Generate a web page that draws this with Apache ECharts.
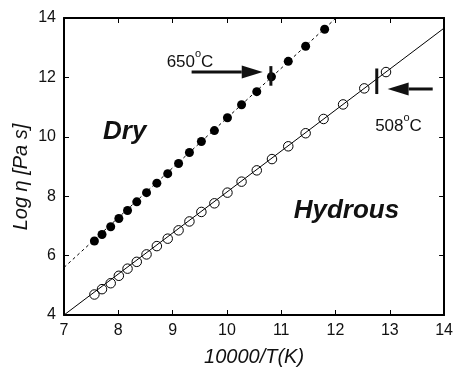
<!DOCTYPE html>
<html>
<head>
<meta charset="utf-8">
<script src="https://cdn.jsdelivr.net/npm/echarts@6/dist/echarts.min.js"></script>
<style>html,body{margin:0;padding:0;background:#fff}#c{width:456px;height:372px}</style>
</head>
<body>
<div id="c"></div>
<script>
// Tick values
const xTicks = [7, 8, 9, 10, 11, 12, 13, 14];
const yTicks = [4, 6, 8, 10, 12, 14];

// Dry (filled circles)
const dryX = [7.56, 7.70, 7.86, 8.01, 8.17, 8.34, 8.52, 8.71, 8.91, 9.11, 9.31, 9.53, 9.77, 10.01, 10.27, 10.55, 10.82, 11.13, 11.45, 11.80];
const dryY = [6.49, 6.71, 6.97, 7.25, 7.52, 7.81, 8.12, 8.44, 8.76, 9.10, 9.47, 9.84, 10.21, 10.64, 11.08, 11.52, 12.02, 12.54, 13.05, 13.62];

// Hydrous (open circles)
const hydX = [7.56, 7.70, 7.86, 8.01, 8.17, 8.34, 8.52, 8.71, 8.91, 9.11, 9.31, 9.53, 9.77, 10.01, 10.27, 10.55, 10.83, 11.13, 11.45, 11.78, 12.14, 12.53, 12.93];
const hydY = [4.69, 4.87, 5.07, 5.32, 5.56, 5.79, 6.04, 6.32, 6.57, 6.85, 7.15, 7.47, 7.76, 8.12, 8.49, 8.87, 9.25, 9.68, 10.12, 10.60, 11.09, 11.63, 12.18];

// Fit lines
const dryFitX = [7, 12.01];
const dryFitY = [5.60, 14];
const hydFitX = [7, 14];
const hydFitY = [4.0, 13.66];

// Annotations (data units)
const bar650 = { x: 10.81, y0: 11.72, y1: 12.38 };
const arrow650 = { x0: 9.35, x1: 10.66, y: 12.18 };
const label650 = { x: 8.89, y: 12.60, t: '650', u: 'C' };
const bar508 = { x: 12.76, y0: 11.44, y1: 12.30 };
const arrow508 = { x0: 13.79, x1: 12.96, y: 11.61 };
const label508 = { x: 12.73, y: 10.45, t: '508', u: 'C' };
const labelDry = { x: 7.72, y: 10.18, t: 'Dry' };
const labelHyd = { x: 11.23, y: 7.52, t: 'Hydrous' };
const yName = 'Log η [Pa s]';
const xName = '10000/T(K)';

const zip = (a, b) => a.map((v, i) => [v, b[i]]);
const FONT = 'Liberation Sans, Arial, Helvetica, sans-serif';

const chart = echarts.init(document.getElementById('c'), null, { renderer: 'canvas' });

const axisCommon = {
  type: 'value',
  axisLine: { show: true, lineStyle: { color: '#000', width: 2 } },
  axisTick: { show: true, inside: true, length: 5, lineStyle: { color: '#000', width: 1 } },
  splitLine: { show: false }
};

chart.setOption({
  animation: false,
  backgroundColor: '#fff',
  grid: { left: 64, right: 11, top: 18, bottom: 53 },
  xAxis: [
    Object.assign({}, axisCommon, {
      min: xTicks[0], max: xTicks[xTicks.length - 1], interval: 1, position: 'bottom',
      axisLabel: { color: '#111', fontFamily: FONT, fontSize: 16, margin: 8 },
      name: xName, nameLocation: 'middle', nameGap: 32,
      nameTextStyle: { color: '#111', fontFamily: FONT, fontSize: 20, fontStyle: 'italic' }
    }),
    Object.assign({}, axisCommon, {
      min: xTicks[0], max: xTicks[xTicks.length - 1], interval: 1, position: 'top',
      axisLabel: { show: false }
    })
  ],
  yAxis: [
    Object.assign({}, axisCommon, {
      min: yTicks[0], max: yTicks[yTicks.length - 1], interval: 2, position: 'left',
      axisLabel: { color: '#111', fontFamily: FONT, fontSize: 16, margin: 8 }
    }),
    Object.assign({}, axisCommon, {
      min: yTicks[0], max: yTicks[yTicks.length - 1], interval: 2, position: 'right',
      axisLabel: { show: false }
    })
  ],
  series: [
    {
      type: 'line', data: zip(dryFitX, dryFitY), symbol: 'none',
      lineStyle: { color: '#000', width: 1, type: [3, 3] }, z: 2
    },
    {
      type: 'line', data: zip(hydFitX, hydFitY), symbol: 'none',
      lineStyle: { color: '#000', width: 1 }, z: 2
    },
    {
      type: 'scatter', data: zip(dryX, dryY), symbol: 'circle', symbolSize: 9,
      itemStyle: { color: '#000', opacity: 1 }, z: 3
    },
    {
      type: 'scatter', data: zip(hydX, hydY), symbol: 'circle', symbolSize: 9.5,
      itemStyle: { color: 'rgba(0,0,0,0)', borderColor: '#000', borderWidth: 1, opacity: 1 }, z: 3
    }
  ]
});

function px(x, y) { return chart.convertToPixel({ gridIndex: 0 }, [x, y]); }

function arrow(a) {
  const p0 = px(a.x0, a.y), p1 = px(a.x1, a.y);
  const dir = p1[0] > p0[0] ? 1 : -1;
  const headLen = 21, half = 6.5;
  const base = p1[0] - dir * headLen;
  return [
    { type: 'line', shape: { x1: p0[0], y1: p0[1], x2: base, y2: p1[1] }, style: { stroke: '#111', lineWidth: 3 }, z: 10 },
    { type: 'polygon', shape: { points: [[p1[0], p1[1]], [base, p1[1] - half], [base, p1[1] + half]] }, style: { fill: '#111' }, z: 10 }
  ];
}
function bar(b) {
  const p0 = px(b.x, b.y0), p1 = px(b.x, b.y1);
  return { type: 'line', shape: { x1: p0[0], y1: p0[1], x2: p1[0], y2: p1[1] }, style: { stroke: '#111', lineWidth: 3 }, z: 10 };
}
function tempLabel(l) {
  const p = px(l.x, l.y);
  return {
    type: 'text', x: p[0], y: p[1], z: 10,
    style: {
      text: '{n|' + l.t + '}{s|o}{n|' + l.u + '}',
      verticalAlign: 'middle', align: 'left',
      rich: {
        n: { fontFamily: FONT, fontSize: 17, fill: '#111', verticalAlign: 'bottom', lineHeight: 22 },
        s: { fontFamily: FONT, fontSize: 11, fill: '#111', verticalAlign: 'top', lineHeight: 11 }
      }
    }
  };
}
function bigLabel(l) {
  const p = px(l.x, l.y);
  return {
    type: 'text', x: p[0], y: p[1], z: 10,
    style: { text: l.t, fontFamily: FONT, fontSize: 26, fontWeight: 'bold', fontStyle: 'italic', fill: '#111', verticalAlign: 'middle', align: 'left' }
  };
}

chart.setOption({
  graphic: [].concat(
    arrow(arrow650), arrow(arrow508),
    [bar(bar650), bar(bar508), tempLabel(label650), tempLabel(label508), bigLabel(labelDry), bigLabel(labelHyd),
     { type: 'text', x: 21, y: 177, rotation: Math.PI / 2, z: 10,
       style: { text: yName, fontFamily: FONT, fontSize: 20, fontStyle: 'italic', fill: '#111', align: 'center', verticalAlign: 'middle' } }]
  )
});
</script>
</body>
</html>
